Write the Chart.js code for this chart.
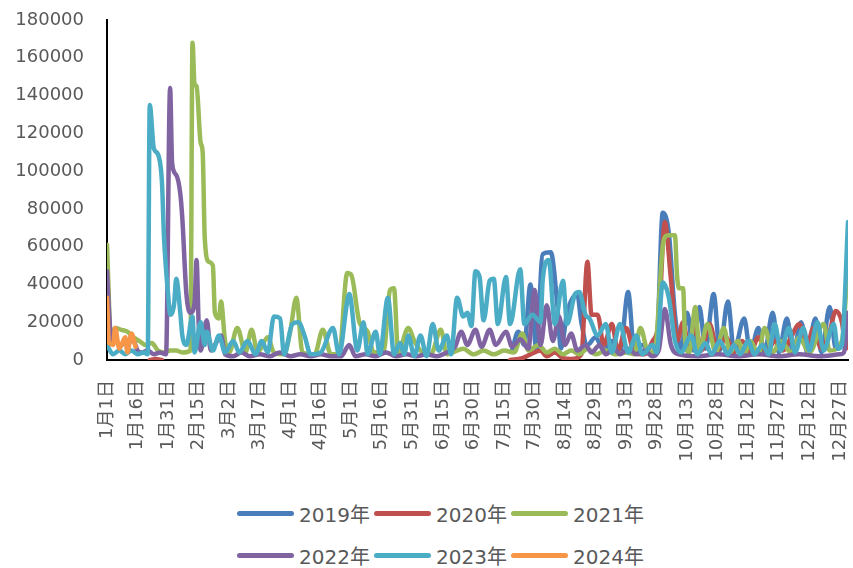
<!DOCTYPE html>
<html>
<head>
<meta charset="utf-8">
<script src="https://cdn.jsdelivr.net/npm/chart.js@4.4.1/dist/chart.umd.min.js"></script>
<style>
  body { margin: 0; background: #fff; }
  #wrap { position: relative; width: 853px; height: 568px; }
  #chart { position: absolute; left: 0; top: 0; }
  #legend { position: absolute; left: 237px; top: 492px; font-family: 'DejaVu Sans', 'Noto Sans CJK SC', sans-serif; font-size: 20px; color: #595959; }
  .row { display: flex; height: 42px; align-items: center; }
  .item { display: flex; align-items: center; width: 137px; white-space: nowrap; }
  .swatch { width: 57px; height: 5px; border-radius: 3px; margin-right: 5px; }
</style>
</head>
<body>
<div id="wrap">
  <canvas id="chart" width="853" height="490"></canvas>
  <div id="legend"></div>
</div>
<script>
// x axis: day of year (0 = 1月1日), a label every 15 days
const xLabels = ['1月1日', '1月16日', '1月31日', '2月15日', '3月2日', '3月17日', '4月1日', '4月16日',
  '5月1日', '5月16日', '5月31日', '6月15日', '6月30日', '7月15日', '7月30日', '8月14日', '8月29日',
  '9月13日', '9月28日', '10月13日', '10月28日', '11月12日', '11月27日', '12月12日', '12月27日'];
const labelStep = 15;

const years = ['2019年', '2020年', '2021年', '2022年', '2023年', '2024年'];
const colors = ['#4A7EBB', '#C0504D', '#9BBB59', '#8064A2', '#4BACC6', '#F79646'];

const days2019 = [199,202,205,208,211,214,218,221,223,226,231,233,236,240,244,248,252,256,259,263,
  267,270,273,276,279,282,285,288,291,294,298,301,305,308,313,316,320,323,327,330,
  334,337,341,344,348,351,355,358,361,364];
const vals2019 = [5000,15000,8000,40000,5000,56000,57000,32000,6000,25000,35000,20000,8000,12000,5000,10000,4000,36000,5000,8000,
  4000,8000,78000,67000,24000,6000,25000,5000,28000,6000,35000,5000,31000,5000,22000,4000,17000,4000,25000,4000,
  22000,4000,20000,4000,22000,4000,28000,6000,8000,20000];

const days2020 = [21,24,27,100,198,204,208,213,216,220,224,228,233,236,238,241,244,248,251,255,
  259,264,268,271,274,277,280,283,286,289,292,296,300,304,308,312,316,320,324,328,
  332,336,340,344,347,351,355,358,361,363,364];
const vals2020 = [0,500,0,null,0,1000,3000,5000,2000,4000,1000,500,3000,52000,24000,24000,8000,19000,5000,17000,
  4000,3000,10000,20000,73000,43000,10000,20000,5000,18000,5000,19000,5000,12000,4000,10000,4000,12000,4000,10000,
  5000,12000,19000,8000,17000,6000,15000,26000,20000,6000,20000];

const days2021 = [0,2,4,7,10,13,16,19,22,25,28,31,34,37,41,42,43,44,46,47,
  48,50,52,53,55,56,58,60,64,68,71,74,79,82,87,90,93,96,102,106,
  110,114,118,120,124,128,131,136,139,141,143,148,151,154,159,164,167,170,175,180,
  185,190,195,200,204,207,212,216,220,224,228,232,236,240,245,250,255,259,262,266,
  269,273,274,276,279,280,281,283,284,286,289,291,295,299,303,306,310,313,316,320,
  323,327,331,336,340,345,352,355,361,364];
const vals2021 = [61000,10000,17000,16000,15000,12000,10000,8000,9000,5000,4000,5000,5000,4000,5000,168000,146000,145000,115000,110000,
  65000,52000,50000,25000,22000,31000,10000,4000,17000,4000,16000,4000,12000,4000,3000,15000,33000,4000,3000,16000,
  3000,3000,46000,45000,20000,15000,4000,5000,37000,38000,4000,17000,10000,5000,3000,16000,3000,4000,6000,3000,
  5000,3000,5000,4000,14000,5000,8000,4000,6000,3000,5000,3000,6000,3000,5000,3000,4000,3000,17000,4000,
  5000,60000,65000,66000,66000,45000,38000,38000,10000,4000,28000,5000,19000,4000,17000,4000,10000,3000,10000,3000,
  17000,4000,10000,4000,12000,4000,19000,5000,10000,52000];

const days2022 = [0,2,4,7,10,13,15,17,20,23,26,29,31,32,34,36,37,39,41,43,
  44,45,46,49,51,53,56,58,62,66,70,75,80,85,90,95,100,105,110,115,
  119,122,127,132,137,142,147,152,157,162,167,171,174,177,181,184,188,191,196,199,
  203,207,210,213,216,219,222,225,228,231,235,238,242,245,249,252,256,260,264,268,
  271,274,277,281,290,300,310,320,330,340,350,360,362,364];
const vals2022 = [47000,12000,10000,8000,10000,10000,5000,4000,5000,3000,4000,3000,144000,104000,98000,88000,75000,35000,25000,30000,
  53000,20000,5000,21000,5000,8000,13000,3000,2000,4000,2000,3000,2000,4000,2000,3000,2000,3000,2000,2000,
  8000,2000,3000,2000,4000,2000,3000,2000,3000,2000,4000,7000,15000,8000,16000,7000,16000,8000,15000,7000,
  11000,6000,37000,8000,29000,10000,23000,8000,14000,5000,8000,4000,8000,3000,6000,3000,6000,3000,5000,2000,
  5000,27000,8000,3000,2000,3000,2000,3000,2000,3000,2000,3000,4000,25000];

const days2023 = [0,3,6,9,12,15,18,20,21,23,25,27,28,29,30,31,33,34,36,37,
  39,42,43,46,48,49,52,55,58,62,65,69,73,76,79,82,85,87,91,94,
  97,100,105,111,114,118,119,123,126,128,132,134,138,141,144,146,148,151,154,157,
  160,163,167,169,172,175,177,179,181,183,185,188,190,192,196,198,203,205,209,213,
  214,217,220,224,226,230,232,235,237,241,245,248,252,256,260,263,268,270,273,276,
  279,282,287,290,294,297,301,305,308,311,315,318,322,325,328,331,335,338,342,345,
  349,352,357,359,361,364];
const vals2023 = [8000,3000,5000,3000,5000,3000,4000,3000,135000,112000,109000,94000,65000,48000,35000,24000,30000,43000,25000,13000,
  8000,23000,4000,20000,8000,15000,5000,13000,4000,10000,4000,10000,3000,10000,4000,23000,22000,3000,19000,20000,
  13000,3000,4000,17000,3000,31000,35000,5000,20000,3000,15000,3000,33000,3000,9000,3000,13000,2000,13000,2000,
  19000,5000,13000,3000,33000,23000,25000,18000,47000,44000,21000,42000,43000,19000,44000,19000,48000,19000,24000,20000,
  42000,53000,19000,42000,19000,35000,36000,24000,22000,13000,19000,4000,19000,4000,13000,3000,8000,4000,41000,33000,
  10000,4000,13000,3000,9000,3000,10000,3000,8000,3000,10000,3000,8000,3000,19000,5000,17000,4000,17000,5000,
  20000,5000,19000,6000,8000,73000];

const days2024 = [0,1,3,4,6,9,10,12,14];
const vals2024 = [33000,9000,8000,17000,6000,12000,4000,14000,7000];

const yMax = 180000;
const yStep = 20000;

const dayLists = [days2019, days2020, days2021, days2022, days2023, days2024];
const valLists = [vals2019, vals2020, vals2021, vals2022, vals2023, vals2024];

const font = { family: "'DejaVu Sans', 'Noto Sans CJK SC', sans-serif", size: 18 };

const datasets = years.map((name, i) => ({
  label: name,
  data: dayLists[i].map((d, j) => ({ x: d, y: valLists[i][j] })),
  borderColor: colors[i],
  backgroundColor: colors[i],
  borderWidth: 4.5,
  borderCapStyle: 'round',
  borderJoinStyle: 'round',
  pointRadius: 0,
  cubicInterpolationMode: 'monotone',
  spanGaps: false,
  order: years.length - i   // later years drawn on top, like Excel
}));

new Chart(document.getElementById('chart'), {
  type: 'line',
  data: { datasets },
  options: {
    responsive: false,
    animation: false,
    layout: { padding: { left: 12, right: 5, top: 20, bottom: 0 } },
    plugins: { legend: { display: false }, tooltip: { enabled: false } },
    scales: {
      x: {
        type: 'linear',
        min: 0,
        max: 364,
        afterBuildTicks: (scale) => { scale.ticks = xLabels.map((_, i) => ({ value: i * labelStep })); },
        afterFit: (scale) => {
          scale.height = 130;
          scale.paddingLeft = 0;
          scale.paddingRight = 0;
        },
        grid: { display: false, drawTicks: false },
        border: { display: true, color: '#000', width: 2 },
        ticks: {
          autoSkip: false,
          minRotation: 90,
          maxRotation: 90,
          padding: 20,
          color: '#595959',
          font,
          callback: (v) => xLabels[Math.round(v / labelStep)]
        }
      },
      y: {
        min: 0,
        max: yMax,
        afterFit: (scale) => {
          scale.width = 95;
          scale.paddingTop = 0;
          scale.paddingBottom = 0;
        },
        grid: { display: false, drawTicks: false },
        border: { display: true, color: '#000', width: 2 },
        ticks: {
          stepSize: yStep,
          padding: 23,
          color: '#595959',
          font,
          callback: (v) => String(v)
        }
      }
    }
  }
});

// legend: two rows of three, as in the original
const legend = document.getElementById('legend');
for (let r = 0; r < 2; r++) {
  const row = document.createElement('div');
  row.className = 'row';
  for (let c = 0; c < 3; c++) {
    const i = r * 3 + c;
    const item = document.createElement('div');
    item.className = 'item';
    const sw = document.createElement('span');
    sw.className = 'swatch';
    sw.style.background = colors[i];
    const txt = document.createElement('span');
    txt.textContent = years[i];
    item.appendChild(sw);
    item.appendChild(txt);
    row.appendChild(item);
  }
  legend.appendChild(row);
}
</script>
</body>
</html>
